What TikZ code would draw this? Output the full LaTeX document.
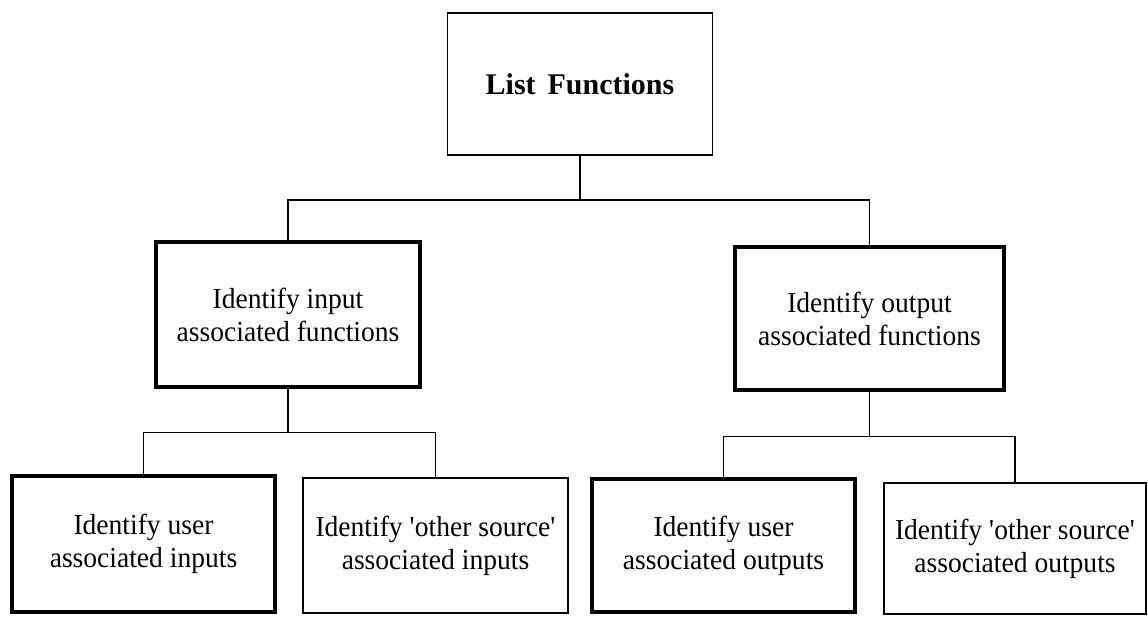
\documentclass[tikz,border=0pt]{standalone}
\usepackage{fontspec}
\setmainfont{Liberation Serif}
\newfontfamily\boxfont[FakeStretch=0.95]{Liberation Serif}
\begin{document}
\begin{tikzpicture}[x=1pt,y=-1pt,
  box/.style={draw=black, rectangle, align=center, inner sep=0pt,
    font=\boxfont\fontsize{29}{33}\selectfont},
  thinbox/.style={box, line width=1.8pt},
  thickbox/.style={box, line width=4.8pt},
  conn/.style={draw=black, line width=1.8pt}]
\useasboundingbox (0,0) rectangle (1148,623);
\fill[white] (0,0) rectangle (1148,623);

% root
\node[thinbox, minimum width=265pt, minimum height=142pt,
  font=\fontsize{30}{33}\selectfont\bfseries] (root) at (580,84) {List\hspace{0.4em}Functions};

% second level
\node[thickbox, minimum width=264pt, minimum height=145pt] (inp) at (288,314.5)
  {Identify input\\associated functions};
\node[thickbox, minimum width=269pt, minimum height=143pt] (outp) at (869.5,318.5)
  {Identify output\\associated functions};

% third level
\node[thickbox, minimum width=263pt, minimum height=136pt] (uin) at (143.5,544)
  {Identify user\\associated inputs};
\node[thinbox, minimum width=265pt, minimum height=135pt] (oin) at (435.5,545.5)
  {Identify \textquotesingle other source\textquotesingle\\associated inputs};
\node[thickbox, minimum width=263pt, minimum height=133pt] (uout) at (723.5,545.5)
  {Identify user\\associated outputs};
\node[thinbox, minimum width=262pt, minimum height=131pt] (oout) at (1015,548.5)
  {Identify \textquotesingle other source\textquotesingle\\associated outputs};

% tree connectors
\draw[conn] (root.south) -- ++(0,44) -| (inp.north);
\draw[conn] (root.south) -- ++(0,44) -| (outp.north);
\draw[conn] (inp.south) -- ++(0,43) -| (uin.north);
\draw[conn] (inp.south) -- ++(0,43) -| (oin.north);
\draw[conn] (outp.south) -- ++(0,44) -| (uout.north);
\draw[conn] (outp.south) -- ++(0,44) -| (oout.north);
\end{tikzpicture}
\end{document}
